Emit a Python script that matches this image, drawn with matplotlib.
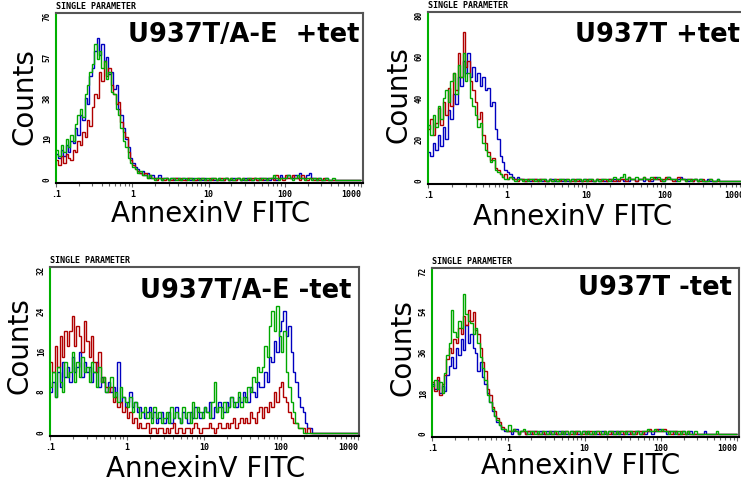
import numpy as np
import matplotlib
matplotlib.use("Agg")
import matplotlib.pyplot as plt
from matplotlib.ticker import LogLocator, NullFormatter

# log channel scale of the cytometer: 32 channels per decade, .1 to 1000
n_per_decade = 32
n_channels = 128

# panel titles and y tick labels
titles = ["U937T/A-E  +tet", "U937T +tet", "U937T/A-E -tet", "U937T -tet"]
yticks = [[0, 19, 38, 57, 76], [0, 20, 40, 60, 80], [0, 8, 16, 24, 32], [0, 18, 36, 54, 72]]
xtick_vals = [0.1, 1, 10, 100, 1000]
xtick_labels = [".1", "1", "10", "100", "1000"]

# counts per channel (blue, red, green)
b1 = [12, 10, 14, 11, 16, 13, 18, 17, 24, 21, 30, 28, 38, 35, 48, 52,
      60, 66, 58, 63, 55, 57, 49, 50, 42, 44, 33, 30, 24, 19, 15, 10,
      8, 6, 5, 3, 4, 2, 3, 1, 2, 1, 1, 2, 0, 1, 1, 0,
      1, 0, 1, 1, 0, 1, 0, 1, 0, 1, 0, 0, 1, 0, 1, 0,
      0, 1, 0, 0, 1, 0, 0, 1, 0, 0, 1, 0, 1, 0, 0, 1,
      0, 1, 0, 1, 0, 1, 1, 0, 1, 0, 1, 1, 0, 1, 2, 1,
      1, 2, 1, 1, 2, 1, 3, 1, 1, 2, 3, 1, 1, 0, 1, 0,
      0, 1, 0, 0, 0, 0, 0, 0, 0, 0, 0, 0, 0, 0, 0, 0]
r1 = [9, 7, 11, 8, 12, 10, 9, 14, 13, 18, 16, 22, 20, 28, 25, 34,
      40, 38, 50, 46, 55, 48, 52, 44, 40, 35, 36, 27, 22, 20, 13, 9,
      7, 5, 4, 3, 2, 3, 1, 2, 1, 1, 0, 1, 1, 0, 1, 0,
      0, 1, 1, 0, 1, 0, 0, 1, 1, 0, 0, 1, 0, 1, 0, 0,
      1, 0, 1, 0, 0, 1, 0, 1, 0, 1, 0, 0, 1, 0, 1, 0,
      1, 0, 1, 1, 0, 1, 0, 1, 0, 1, 1, 0, 2, 1, 1, 0,
      2, 1, 1, 2, 1, 1, 0, 2, 1, 0, 1, 1, 0, 1, 0, 0,
      1, 0, 0, 0, 0, 0, 0, 0, 0, 0, 0, 0, 0, 0, 0, 0]
g1 = [14, 11, 16, 13, 19, 15, 21, 18, 26, 30, 33, 29, 40, 44, 50, 54,
      63, 56, 60, 52, 55, 47, 50, 41, 40, 33, 30, 24, 18, 15, 10, 8,
      6, 5, 3, 4, 2, 2, 1, 2, 1, 0, 1, 1, 0, 1, 1, 0,
      1, 1, 0, 1, 0, 1, 1, 0, 1, 0, 1, 1, 0, 1, 0, 1,
      0, 1, 1, 0, 1, 0, 1, 1, 0, 1, 0, 1, 1, 0, 1, 0,
      1, 1, 0, 1, 1, 0, 1, 1, 0, 1, 1, 2, 1, 0, 1, 1,
      1, 2, 1, 0, 1, 2, 1, 1, 0, 1, 1, 0, 1, 0, 1, 0,
      0, 1, 0, 0, 1, 0, 0, 0, 0, 0, 0, 0, 0, 0, 0, 0]

b2 = [14, 12, 18, 15, 22, 17, 26, 20, 34, 30, 42, 37, 50, 46, 58, 52,
      62, 50, 55, 48, 52, 46, 50, 44, 45, 36, 38, 25, 20, 12, 9, 5,
      4, 3, 2, 1, 2, 1, 1, 0, 1, 0, 1, 1, 0, 1, 0, 1,
      0, 1, 1, 0, 0, 1, 0, 1, 0, 0, 1, 0, 1, 0, 0, 1,
      0, 1, 0, 0, 1, 0, 1, 0, 0, 1, 0, 1, 0, 1, 1, 0,
      1, 0, 1, 1, 0, 1, 1, 0, 1, 1, 0, 1, 2, 1, 1, 0,
      1, 2, 1, 1, 0, 1, 2, 1, 1, 0, 1, 0, 1, 0, 1, 0,
      0, 1, 0, 0, 0, 1, 0, 0, 0, 0, 0, 0, 0, 0, 0, 0]
r2 = [25, 30, 22, 28, 35, 27, 38, 32, 45, 36, 52, 44, 62, 50, 72, 55,
      58, 48, 44, 38, 30, 33, 22, 18, 14, 10, 11, 6, 5, 3, 2, 3,
      1, 2, 1, 1, 0, 1, 1, 0, 1, 1, 0, 1, 0, 1, 1, 0,
      0, 1, 0, 1, 1, 0, 1, 0, 1, 0, 0, 1, 0, 1, 0, 0,
      1, 0, 1, 0, 1, 1, 0, 1, 0, 1, 1, 0, 1, 0, 1, 1,
      0, 2, 1, 1, 0, 1, 1, 2, 1, 0, 1, 2, 1, 1, 0, 1,
      2, 1, 1, 0, 1, 2, 1, 1, 0, 1, 1, 0, 1, 0, 0, 1,
      0, 0, 1, 0, 0, 0, 0, 0, 0, 0, 0, 0, 0, 0, 0, 0]
g2 = [27, 22, 32, 26, 36, 30, 40, 44, 38, 48, 52, 42, 56, 50, 62, 48,
      52, 40, 36, 32, 26, 28, 18, 15, 12, 9, 10, 5, 4, 3, 2, 1,
      1, 2, 1, 0, 1, 1, 0, 1, 0, 1, 1, 0, 1, 0, 1, 1,
      0, 1, 0, 1, 0, 1, 1, 0, 1, 0, 1, 0, 1, 1, 0, 1,
      0, 1, 1, 0, 1, 0, 1, 1, 1, 0, 1, 2, 1, 1, 2, 3,
      1, 2, 1, 1, 2, 1, 1, 2, 1, 1, 2, 1, 1, 2, 1, 0,
      1, 2, 1, 1, 1, 0, 1, 1, 0, 1, 0, 1, 1, 0, 1, 0,
      0, 0, 1, 0, 0, 1, 0, 0, 0, 0, 0, 0, 0, 0, 0, 0]

b3 = [8, 10, 7, 12, 9, 14, 11, 13, 10, 15, 12, 13, 16, 11, 14, 12,
      13, 10, 12, 14, 9, 11, 10, 8, 10, 8, 9, 7, 14, 6, 7, 5,
      6, 8, 5, 6, 4, 5, 4, 3, 4, 5, 3, 4, 2, 3, 4, 2,
      3, 4, 2, 3, 5, 3, 2, 4, 3, 2, 4, 3, 5, 4, 3, 4,
      5, 4, 6, 3, 5, 4, 6, 5, 4, 6, 5, 7, 6, 5, 7, 6,
      8, 7, 6, 9, 8, 7, 10, 9, 9, 12, 10, 15, 14, 18, 16, 20,
      22, 24, 19, 21, 16, 12, 10, 7, 5, 4, 2, 1, 1, 0, 0, 0,
      0, 0, 0, 0, 0, 0, 0, 0, 0, 0, 0, 0, 0, 0, 0, 0]
r3 = [14, 12, 17, 13, 19, 15, 20, 17, 20, 23, 17, 21, 19, 16, 22, 18,
      15, 19, 14, 12, 16, 10, 11, 9, 8, 9, 6, 7, 5, 6, 4, 5,
      3, 4, 2, 3, 1, 2, 1, 1, 2, 0, 1, 1, 0, 1, 1, 0,
      1, 0, 1, 2, 0, 1, 1, 0, 1, 1, 0, 1, 2, 1, 0, 1,
      1, 1, 2, 1, 0, 1, 2, 1, 1, 2, 1, 2, 3, 1, 2, 3,
      2, 3, 2, 4, 3, 2, 4, 5, 3, 5, 4, 6, 5, 8, 6, 9,
      10, 7, 6, 4, 3, 2, 2, 1, 1, 1, 0, 1, 0, 0, 0, 0,
      0, 0, 0, 0, 0, 0, 0, 0, 0, 0, 0, 0, 0, 0, 0, 0]
g3 = [9, 12, 7, 13, 10, 8, 14, 11, 12, 16, 10, 14, 11, 15, 12, 13,
      10, 14, 12, 9, 13, 10, 11, 8, 9, 11, 7, 8, 6, 9, 7, 6,
      5, 7, 4, 6, 5, 3, 4, 5, 3, 4, 2, 5, 3, 4, 2, 3,
      4, 2, 5, 3, 4, 3, 2, 5, 3, 4, 2, 6, 3, 5, 4, 3,
      5, 4, 3, 6, 10, 4, 5, 3, 6, 4, 5, 7, 5, 6, 8, 5,
      7, 6, 9, 8, 11, 10, 13, 12, 13, 17, 15, 21, 24, 20, 25, 19,
      16, 20, 12, 9, 6, 4, 2, 1, 1, 0, 0, 0, 0, 0, 0, 0,
      0, 0, 0, 0, 0, 0, 0, 0, 0, 0, 0, 0, 0, 0, 0, 0]

b4 = [22, 20, 24, 18, 21, 19, 26, 30, 34, 29, 38, 35, 42, 37, 48, 40,
      44, 38, 36, 28, 32, 25, 22, 18, 14, 10, 8, 5, 4, 2, 1, 1,
      1, 0, 1, 2, 0, 1, 1, 0, 1, 0, 1, 1, 0, 1, 0, 0,
      1, 0, 1, 0, 0, 1, 0, 1, 0, 0, 1, 0, 1, 0, 0, 1,
      0, 1, 0, 0, 1, 0, 0, 1, 0, 0, 1, 0, 1, 0, 1, 0,
      0, 1, 0, 1, 0, 1, 1, 0, 1, 0, 1, 1, 0, 1, 1, 2,
      1, 1, 0, 1, 1, 0, 1, 0, 0, 1, 0, 0, 1, 0, 0, 0,
      0, 0, 1, 0, 0, 0, 0, 0, 0, 0, 0, 0, 0, 0, 0, 0]
r4 = [23, 19, 25, 17, 22, 26, 33, 38, 36, 42, 40, 47, 44, 52, 48, 55,
      50, 54, 46, 44, 38, 32, 28, 20, 17, 12, 10, 7, 5, 3, 2, 1,
      1, 1, 2, 1, 0, 1, 1, 0, 1, 1, 0, 1, 0, 0, 1, 0,
      0, 1, 0, 1, 0, 0, 1, 0, 1, 0, 0, 1, 0, 1, 0, 0,
      1, 0, 1, 0, 0, 1, 0, 0, 1, 0, 0, 1, 0, 1, 0, 1,
      0, 1, 1, 0, 1, 0, 1, 1, 0, 1, 1, 2, 1, 1, 2, 1,
      1, 2, 1, 1, 0, 1, 1, 0, 1, 0, 0, 1, 0, 0, 0, 0,
      0, 0, 0, 0, 0, 0, 0, 0, 0, 0, 0, 0, 0, 0, 0, 0]
g4 = [21, 24, 20, 23, 18, 27, 35, 40, 55, 45, 43, 50, 47, 62, 53, 50,
      49, 44, 47, 40, 34, 29, 24, 17, 14, 11, 8, 6, 4, 2, 2, 1,
      4, 1, 2, 1, 0, 1, 2, 1, 0, 1, 1, 0, 1, 0, 1, 1,
      0, 1, 0, 1, 1, 0, 1, 0, 1, 0, 1, 0, 1, 1, 0, 1,
      0, 1, 0, 1, 0, 1, 1, 0, 1, 0, 1, 1, 0, 1, 0, 1,
      1, 0, 1, 1, 0, 1, 1, 0, 1, 1, 2, 1, 1, 2, 1, 1,
      2, 1, 1, 0, 1, 1, 0, 1, 0, 1, 0, 1, 0, 0, 1, 0,
      0, 0, 0, 0, 0, 0, 0, 1, 0, 0, 0, 0, 0, 0, 0, 0]

panels = [(b1, r1, g1), (b2, r2, g2), (b3, r3, g3), (b4, r4, g4)]
colors = ["#0000c0", "#b00000", "#00a800"]

W, H = 741, 482
# axes boxes in pixels: left, top, right, bottom
boxes = [(56, 13, 363, 183), (428, 12, 748, 184), (50, 267, 359, 436), (432, 268, 739, 437)]
xmax = [1060, 1130, 1030, 1060]
counts_pos = [(25, 97), (398, 95), (20, 346), (402, 348)]
# baseline of the x label
annex_pos = [(211, 222), (573, 225), (206, 477), (581, 474)]
title_x = [0.99, 0.975, 0.977, 0.977]
title_y = [0.829, 0.826, 0.817, 0.84]

edges = 0.1 * 10 ** (np.arange(n_channels + 1) / n_per_decade)

fig = plt.figure(figsize=(W / 100, H / 100), dpi=100)
mono = "DejaVu Sans Mono"

for k in range(4):
    l, t, r, b = boxes[k]
    ax = fig.add_axes([l / W, 1 - b / H, (r - l) / W, (b - t) / H])
    for vals, c in zip(panels[k], colors):
        ax.stairs(vals, edges, color=c, lw=1.0, baseline=None)
    ax.set_xscale("log")
    ax.set_xlim(0.1, xmax[k])
    top = yticks[k][-1]
    ax.set_ylim(-0.02 * top, top * 1.02)

    ax.set_xticks(xtick_vals)
    labs = ax.set_xticklabels(xtick_labels, fontfamily=mono, fontsize=6, fontweight="bold")
    labs[-1].set_horizontalalignment("right")
    ax.xaxis.set_minor_locator(LogLocator(base=10, subs=np.arange(2, 10)))
    ax.xaxis.set_minor_formatter(NullFormatter())
    ax.tick_params(axis="x", which="major", length=3, width=0.8, color="#666666", pad=2)
    ax.tick_params(axis="x", which="minor", length=2.5, width=0.8, color="#666666")

    ax.set_yticks(yticks[k])
    ax.set_yticklabels([str(v) for v in yticks[k]], fontfamily=mono, fontsize=5.5,
                       fontweight="bold", rotation=90, va="center")
    ax.tick_params(axis="y", length=0, pad=3)

    ax.spines["left"].set_color("#00b000")
    ax.spines["bottom"].set_color("black")
    ax.spines["top"].set_color("#555555")
    ax.spines["right"].set_color("#555555")
    for s in ax.spines.values():
        s.set_linewidth(1.5)

    ax.text(0.0, 1.01, "SINGLE PARAMETER", transform=ax.transAxes, ha="left", va="bottom",
            fontfamily=mono, fontsize=6, fontweight="bold")
    ax.text(title_x[k], title_y[k], titles[k], transform=ax.transAxes, ha="right",
            va="baseline", fontsize=18.5, fontweight="bold")

    cx, cy = counts_pos[k]
    fig.text(cx / W, 1 - cy / H, "Counts", rotation=90, ha="center", va="center", fontsize=20)
    ax_x, ax_y = annex_pos[k]
    fig.text(ax_x / W, 1 - ax_y / H, "AnnexinV FITC", ha="center", va="baseline", fontsize=20)

plt.savefig("out.png", dpi=100)
